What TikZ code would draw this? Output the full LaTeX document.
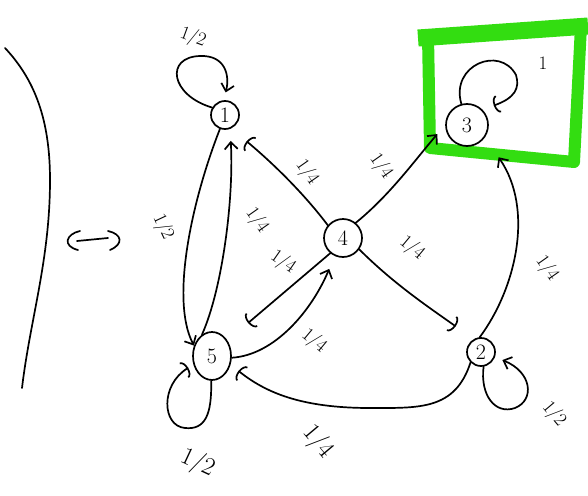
\documentclass[tikz,border=0pt]{standalone}
\usepackage{fontspec}
\usetikzlibrary{arrows.meta,shapes.geometric}
\definecolor{hlgreen}{RGB}{51,221,17}
\begin{document}
\begin{tikzpicture}[x=1pt,y=-1pt,
  pen/.style={line width=1.7pt,line cap=round,line join=round},
  state/.style={circle,draw,pen,inner sep=0pt,font=\fontsize{22}{26}\selectfont},
  lbl/.style={font=\fontsize{19}{22}\selectfont,inner sep=0pt},
  biglbl/.style={font=\fontsize{25}{28}\selectfont,inner sep=0pt},
  sb/.style={pen,-{Straight Barb[length=7pt,width=13pt]}},
  ab/.style={pen,-{Arc Barb[length=5pt,width=18pt]}},
  gbox/.style={draw=hlgreen,line width=12pt,line join=round}
]
\useasboundingbox (0,0) rectangle (588,495);

% green frame around the absorbing state
\draw[gbox] (428,36) -- (581,26) -- (574,162) -- (430,148) -- cycle;
\draw[draw=hlgreen,line width=17pt] (418,38) -- (588,26);

% left curve and the double arrow
\draw[pen] (5,48) .. controls (35,80) and (50,120) .. (50,180)
          .. controls (50,260) and (30,320) .. (22,388);
\draw[pen] (80,231) .. controls (66,234) and (62,246) .. (78,250);
\draw[pen] (77,241) -- (108,238);
\draw[pen] (108,231) .. controls (122,234) and (124,244) .. (110,250);

% states
\node[state,minimum size=28pt] (n1) at (225,115) {1};
\node[state,minimum size=38pt] (n4) at (343,238) {4};
\node[state,minimum size=42pt] (n3) at (467,125) {3};
\node[state,ellipse,minimum width=38pt,minimum height=48pt] (n5) at (212,356) {5};
\node[state,minimum size=28pt] (n2) at (481,352) {2};

% self-loops
\draw[sb,shorten >=8pt] (n1.150) .. controls (170,95) and (165,57) .. (200,56)
      .. controls (225,55) and (230,75) .. (n1.95);
\draw[ab,shorten >=12pt] (n3.105) .. controls (450,65) and (500,45) .. (516,75)
      .. controls (520,88) and (515,98) .. (n3.45);
\draw[ab,shorten >=6pt] (n5.268) .. controls (212,415) and (205,430) .. (185,428)
      .. controls (162,426) and (160,385) .. (n5.205);
\draw[sb,shorten >=8pt] (n2.-80) .. controls (480,395) and (495,415) .. (515,408)
      .. controls (535,400) and (532,372) .. (n2.-20);

% transitions
\draw[sb] (n1.250) .. controls (192,200) and (170,300) .. (n5.150);
\draw[sb,shorten >=12pt] (n5.115) .. controls (222,290) and (234,200) .. (n1.290);
\draw[ab,shorten >=20pt] (n4.140) .. controls (305,195) and (275,165) .. (n1.-65);
\draw[sb,shorten >=12pt] (n4.50) .. controls (390,195) and (415,160) .. (n3.180);
\draw[ab,shorten >=22pt] (n4.-35) .. controls (395,285) and (430,308) .. (n2.120);
\draw[ab,shorten >=27pt] (n4.230) -- (n5.45);
\draw[sb,shorten >=14pt] (n5.-5) .. controls (275,355) and (312,310) .. (n4.245);
\draw[ab,shorten >=10pt] (n2.225) .. controls (455,410) and (420,408) .. (370,408)
      .. controls (300,408) and (265,392) .. (n5.-25);
\draw[sb,shorten >=24pt] (n2.95) .. controls (515,290) and (535,210) .. (n3.-35);

% labels
\node[lbl,rotate=-20] (l11) at (193,38) {1/2};
\node[lbl,rotate=-65] (l15) at (163,227) {1/2};
\node[lbl,rotate=-55] (l51) at (257,220) {1/4};
\node[lbl,rotate=-55] (l41) at (307,172) {1/4};
\node[lbl,rotate=-55] (l43) at (381,166) {1/4};
\node[lbl,rotate=-40] (l42) at (412,248) {1/4};
\node[lbl,rotate=-35] (l45) at (283,262) {1/4};
\node[lbl,rotate=-40] (l54) at (314,341) {1/4};
\node[lbl,rotate=-55] (l23) at (547,268) {1/4};
\node[biglbl,rotate=-50] (l25) at (318,442) {1/4};
\node[biglbl,rotate=-25] (l55) at (198,463) {1/2};
\node[lbl,rotate=-50] (l22) at (554,414) {1/2};
\node[lbl] (l33) at (543,63) {1};
\end{tikzpicture}
\end{document}
